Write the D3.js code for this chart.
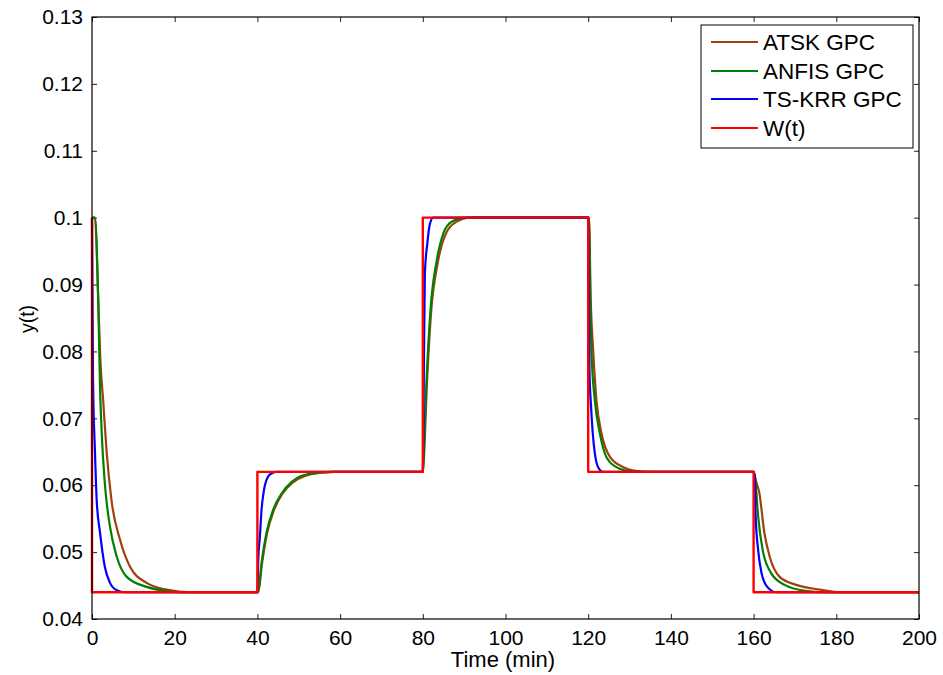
<!DOCTYPE html>
<html>
<head>
<meta charset="utf-8">
<script src="https://cdn.jsdelivr.net/npm/d3@7"></script>
<style>
  body { margin: 0; background: #fff; }
  svg text { font-family: "Liberation Sans", Arial, sans-serif; fill: #000; }
</style>
</head>
<body>
<svg id="chart" width="943" height="675"></svg>
<script>
// tick values
var xTicks = [0, 20, 40, 60, 80, 100, 120, 140, 160, 180, 200];
var yTicks = [0.04, 0.05, 0.06, 0.07, 0.08, 0.09, 0.1, 0.11, 0.12, 0.13];

// set point W(t)
var wT = [0, 0, 40, 40, 80, 80, 120, 120, 160, 160, 200];
var wY = [0.1, 0.044, 0.044, 0.062, 0.062, 0.1, 0.1, 0.062, 0.062, 0.044, 0.044];

// ATSK GPC
var atskT = [0, 0.7, 1.5, 2.0, 2.7, 3.5, 4.7, 6.8, 9.2, 13.2, 18, 24,
  40, 40.2, 41.1, 42.3, 43.9, 46.0, 48.5, 51.5, 56, 59,
  80, 80.2, 81.0, 82.0, 83.6, 85.8, 88.2, 91.4,
  120, 120.2, 120.6, 121.2, 122, 123.2, 125.3, 128.5, 131, 135,
  160, 160.5, 161.4, 162.6, 163.9, 166.3, 170.3, 176, 181, 200];
var atskY = [0.1, 0.1, 0.088, 0.079, 0.0727, 0.0653, 0.0578, 0.0518, 0.0478, 0.0454, 0.0444, 0.044,
  0.044, 0.044, 0.0482, 0.0527, 0.0561, 0.0587, 0.0604, 0.0614, 0.0619, 0.062,
  0.062, 0.0633, 0.0752, 0.0858, 0.0932, 0.0979, 0.0994, 0.1,
  0.1, 0.1, 0.088, 0.0802, 0.0727, 0.0678, 0.0642, 0.0627, 0.0622, 0.062,
  0.062, 0.0608, 0.0588, 0.0529, 0.0493, 0.0463, 0.0451, 0.0444, 0.044, 0.044];

// ANFIS GPC
var anfisT = [0, 0.7, 1.5, 1.94, 2.35, 3.1, 4.35, 6, 8.4, 13.2, 19.6, 22,
  40, 40.2, 41, 42.2, 43.8, 45.9, 48.3, 51.1, 56, 58,
  80, 80.1, 80.9, 81.9, 83.4, 85, 87, 90.6,
  120, 120.2, 120.5, 120.8, 121.6, 122.8, 124.4, 126.8, 129, 131.6,
  160, 160.4, 161.1, 162.2, 164.2, 167.5, 172.5, 177, 200];
var anfisY = [0.1, 0.1, 0.0877, 0.0747, 0.0678, 0.0603, 0.0538, 0.0493, 0.0463, 0.0448, 0.0441, 0.044,
  0.044, 0.044, 0.0484, 0.0529, 0.0563, 0.0588, 0.0605, 0.0615, 0.0619, 0.062,
  0.062, 0.0633, 0.0757, 0.0865, 0.0937, 0.0977, 0.0994, 0.1,
  0.1, 0.1, 0.0877, 0.0798, 0.0727, 0.0678, 0.0642, 0.0627, 0.0622, 0.062,
  0.062, 0.0608, 0.0553, 0.0503, 0.0469, 0.0451, 0.0442, 0.044, 0.044];

// TS-KRR GPC
var krrT = [0, 0.25, 0.73, 1.13, 1.94, 3.1, 4.35, 6, 8,
  40, 40.2, 40.6, 41, 41.6, 42.6, 43.5, 44.6,
  80, 80.3, 80.5, 81.1, 81.7, 82.5,
  120, 120.3, 120.7, 121.1, 121.6, 122.4, 123.6,
  160, 160.3, 160.5, 161.1, 161.9, 163.3, 165.5, 200];
var krrY = [0.1, 0.0757, 0.0648, 0.0578, 0.0529, 0.0478, 0.0454, 0.0443, 0.044,
  0.044, 0.0488, 0.0523, 0.0563, 0.0593, 0.0613, 0.0618, 0.062,
  0.062, 0.080, 0.0917, 0.0962, 0.099, 0.1,
  0.1, 0.0772, 0.0717, 0.0678, 0.0648, 0.0627, 0.062,
  0.062, 0.0613, 0.0553, 0.0503, 0.0469, 0.0448, 0.044, 0.044];

var seriesNames = ["ATSK GPC", "ANFIS GPC", "TS-KRR GPC", "W(t)"];
var seriesColors = ["#a0400f", "#008000", "#0000ff", "#ff0000"];

var svg = d3.select("#chart");
var plotLeft = 92, plotRight = 919, plotTop = 17, plotBottom = 619;

var x = d3.scaleLinear().domain([0, 200]).range([plotLeft, plotRight]);
var y = d3.scaleLinear().domain([0.04, 0.13]).range([plotBottom, plotTop]);

var fmt = function (d) { return String(+d.toFixed(2)); };

// axes, ticks pointing inward like matlab
var gx = svg.append("g").attr("transform", "translate(0," + plotBottom + ")")
  .call(d3.axisBottom(x).tickValues(xTicks).tickSize(-5).tickPadding(11));
var gxTop = svg.append("g").attr("transform", "translate(0," + plotTop + ")")
  .call(d3.axisTop(x).tickValues(xTicks).tickSize(-5).tickFormat(""));
var gy = svg.append("g").attr("transform", "translate(" + plotLeft + ",0)")
  .call(d3.axisLeft(y).tickValues(yTicks).tickSize(-5).tickPadding(9).tickFormat(fmt));
var gyRight = svg.append("g").attr("transform", "translate(" + plotRight + ",0)")
  .call(d3.axisRight(y).tickValues(yTicks).tickSize(-5).tickFormat(""));

[gx, gxTop, gy, gyRight].forEach(function (g) {
  g.select(".domain").remove();
  g.selectAll(".tick line").attr("stroke", "#222").attr("stroke-width", 1);
  g.selectAll(".tick text").attr("font-size", 21).attr("fill", "#000")
    .style("font-family", "'Liberation Sans', Arial, sans-serif");
});

// series lines (set point drawn with straight segments)
var lineSmooth = d3.line().curve(d3.curveMonotoneX)
  .x(function (d) { return x(d[0]); }).y(function (d) { return y(d[1]); });
var lineStep = d3.line().x(function (d) { return x(d[0]); }).y(function (d) { return y(d[1]); });
var allT = [atskT, anfisT, krrT, wT];
var allY = [atskY, anfisY, krrY, wY];

allT.forEach(function (ts, i) {
  var pts = ts.map(function (t, k) { return [t, allY[i][k]]; });
  svg.append("path")
    .datum(pts)
    .attr("d", i === 3 ? lineStep : lineSmooth)
    .attr("fill", "none")
    .attr("stroke", seriesColors[i])
    .attr("stroke-width", i === 3 ? 2.4 : 2.2)
    .attr("stroke-linejoin", "round");
});

// box
svg.append("rect")
  .attr("x", plotLeft).attr("y", plotTop)
  .attr("width", plotRight - plotLeft).attr("height", plotBottom - plotTop)
  .attr("fill", "none").attr("stroke", "#000").attr("stroke-width", 1.2);

// axis labels
svg.append("text").attr("x", 503).attr("y", 667)
  .attr("text-anchor", "middle").attr("font-size", 22).text("Time (min)");
svg.append("text").attr("transform", "translate(33.5,319) rotate(-90)")
  .attr("text-anchor", "middle").attr("font-size", 19.5).text("y(t)");

// legend
var lg = svg.append("g");
lg.append("rect").attr("x", 701).attr("y", 25).attr("width", 212).attr("height", 123)
  .attr("fill", "#fff").attr("stroke", "#000").attr("stroke-width", 1);
var rowY = [42, 71, 99, 128];
seriesNames.forEach(function (name, i) {
  lg.append("line").attr("x1", 711).attr("x2", 758).attr("y1", rowY[i]).attr("y2", rowY[i])
    .attr("stroke", seriesColors[i]).attr("stroke-width", 2);
  lg.append("text").attr("x", 763).attr("y", rowY[i]).attr("dy", "0.35em")
    .attr("font-size", 22.5).text(name);
});
</script>
</body>
</html>
